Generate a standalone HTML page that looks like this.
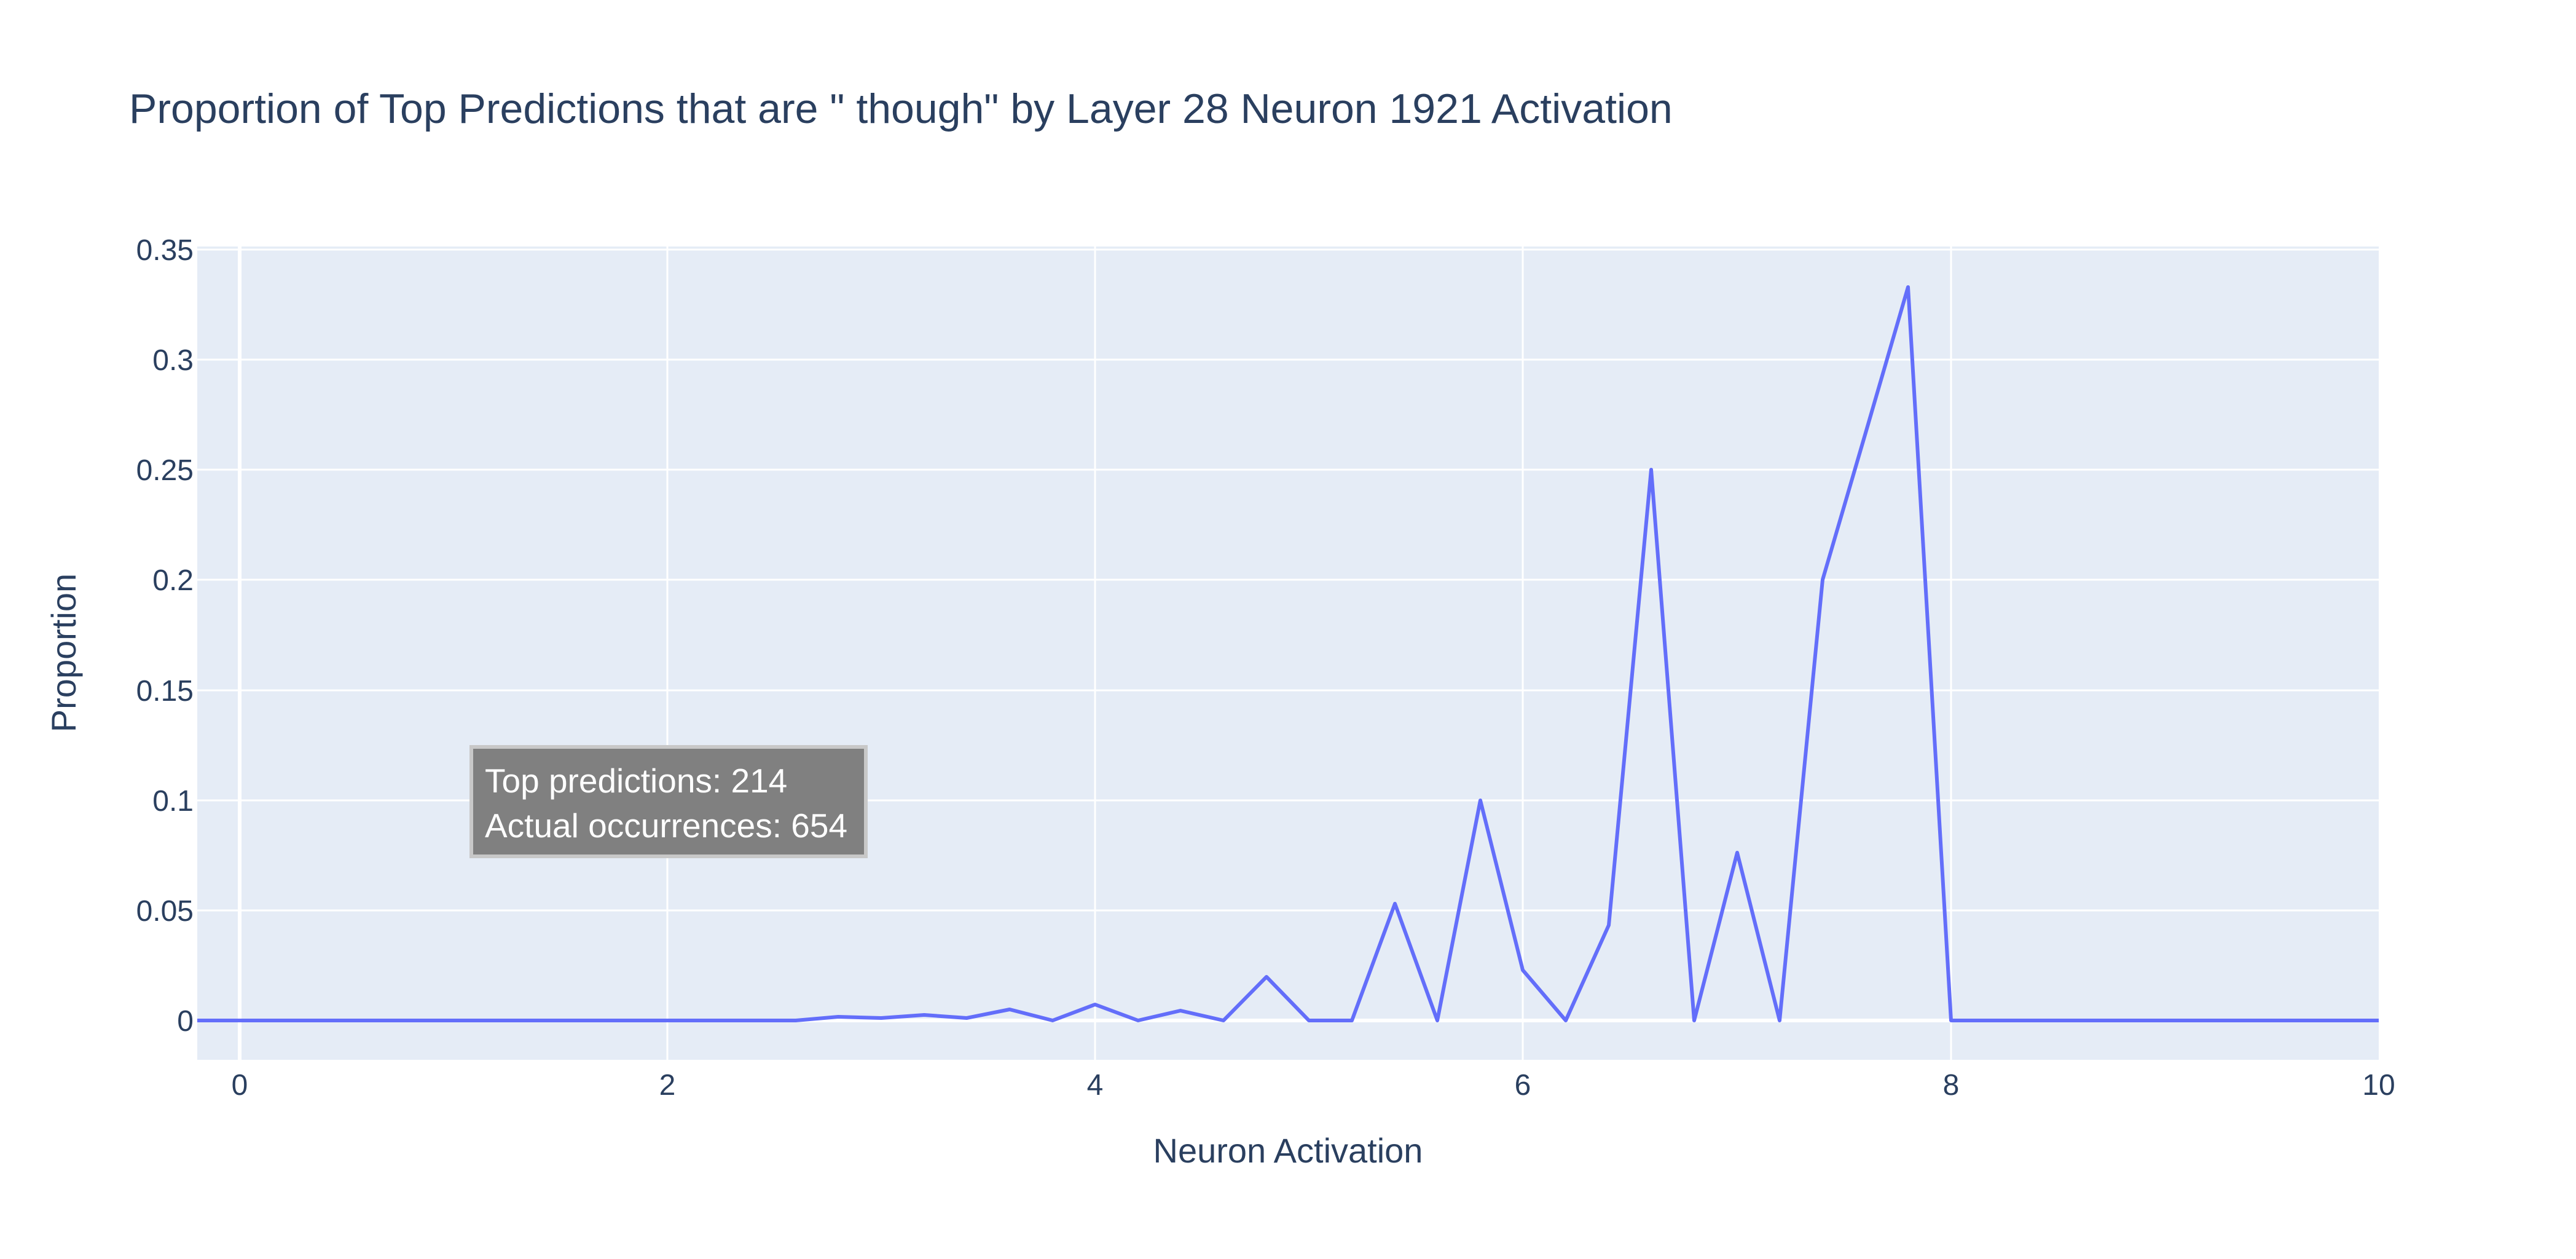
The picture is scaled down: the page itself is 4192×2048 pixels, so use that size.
<!DOCTYPE html>
<html><head><meta charset="utf-8"><style>
html,body{margin:0;padding:0;background:#fff;}
svg{display:block;}
text{font-family:"Liberation Sans",Arial,sans-serif;fill:#2a3f5f;}
</style></head><body>
<svg width="4192" height="2048" viewBox="0 0 4192 2048" xmlns="http://www.w3.org/2000/svg">
<rect x="0" y="0" width="4192" height="2048" fill="#fff"/>
<rect x="321" y="401" width="3550" height="1323" fill="#e5ecf6"/>
<g stroke="#fff" stroke-width="3">
<line x1="321" x2="3871" y1="406" y2="406"/>
<line x1="321" x2="3871" y1="585" y2="585"/>
<line x1="321" x2="3871" y1="764" y2="764"/>
<line x1="321" x2="3871" y1="943" y2="943"/>
<line x1="321" x2="3871" y1="1123" y2="1123"/>
<line x1="321" x2="3871" y1="1302" y2="1302"/>
<line x1="321" x2="3871" y1="1481" y2="1481"/>
<line x1="1086" x2="1086" y1="401" y2="1724"/>
<line x1="1782" x2="1782" y1="401" y2="1724"/>
<line x1="2478" x2="2478" y1="401" y2="1724"/>
<line x1="3175" x2="3175" y1="401" y2="1724"/>
</g>
<line x1="390" x2="390" y1="401" y2="1724" stroke="#fff" stroke-width="6"/>
<line x1="321" x2="3871" y1="1660" y2="1660" stroke="#fff" stroke-width="6"/>
<polyline fill="none" stroke="#636efa" stroke-width="6" stroke-linejoin="round" points="
321,1660 1295,1660 1364,1654 1434,1656 1504,1651 1573,1656 1643,1642 1713,1660 1782,1634 1852,1660 1921,1644 1991,1660 2061,1589 2130,1660 2200,1660 2270,1470 2339,1660 2409,1302 2478,1578 2548,1660 2618,1505 2687,764 2757,1660 2827,1387 2896,1660 2966,943 3036,704 3105,467 3175,1660 3871,1660"/>
<g font-size="48" text-anchor="end">
<text x="315" y="423">0.35</text>
<text x="315" y="602">0.3</text>
<text x="315" y="781">0.25</text>
<text x="315" y="960">0.2</text>
<text x="315" y="1140">0.15</text>
<text x="315" y="1319">0.1</text>
<text x="315" y="1498">0.05</text>
<text x="315" y="1677">0</text>
</g>
<g font-size="48" text-anchor="middle">
<text x="390" y="1781">0</text>
<text x="1086" y="1781">2</text>
<text x="1782" y="1781">4</text>
<text x="2478" y="1781">6</text>
<text x="3175" y="1781">8</text>
<text x="3871" y="1781">10</text>
</g>
<text x="2096" y="1891" font-size="56" text-anchor="middle">Neuron Activation</text>
<text x="0" y="0" font-size="56" text-anchor="middle" transform="translate(123,1062) rotate(-90)">Proportion</text>
<text x="210" y="200" font-size="68">Proportion of Top Predictions that are " though" by Layer 28 Neuron 1921 Activation</text>
<rect x="767" y="1215" width="642" height="178" fill="#808080" stroke="#c8c8c8" stroke-width="6"/>
<text x="789" y="1289" font-size="55" style="fill:#fff">Top predictions: 214</text>
<text x="789" y="1362" font-size="55" style="fill:#fff">Actual occurrences: 654</text>
</svg>
</body></html>
